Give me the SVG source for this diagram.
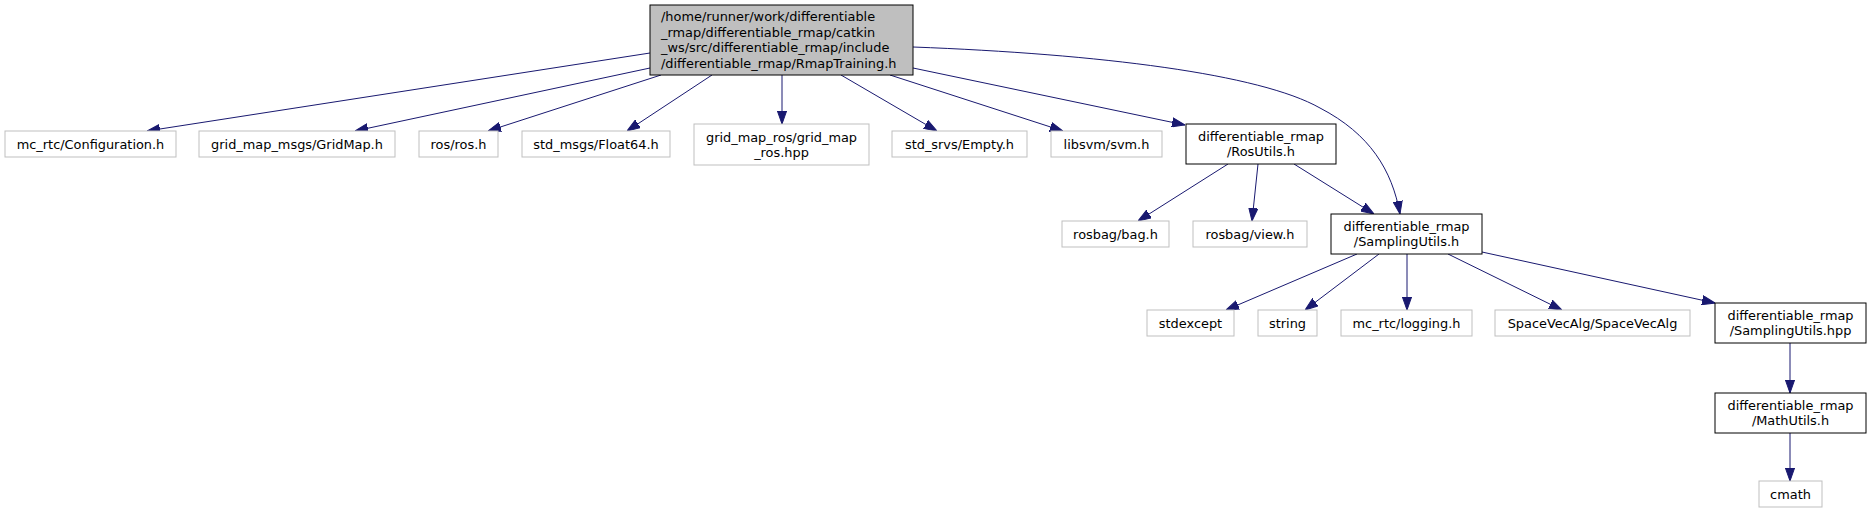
<svg xmlns="http://www.w3.org/2000/svg" width="1871" height="513" viewBox="0 0 1871 513">
<style>
  .bg { fill: #ffffff; }
  .leaf rect { fill: #ffffff; stroke: #bfbfbf; stroke-width: 1; }
  .inner rect { fill: #ffffff; stroke: #000000; stroke-width: 1; }
  .root rect { fill: #bfbfbf; stroke: #000000; stroke-width: 1; }
  text { font-family: "DejaVu Sans", "Noto Sans", sans-serif; font-size: 12.9px; fill: #000000; }
  .c { text-anchor: middle; }
  .edges path { fill: none; stroke: #191970; stroke-width: 1; marker-end: url(#arr); }
</style>
<defs>
  <marker id="arr" viewBox="0 0 13 10" refX="13" refY="5" markerWidth="13" markerHeight="10" markerUnits="userSpaceOnUse" orient="auto">
    <path d="M0,0.4 L13,5 L0,9.6 Z" fill="#191970" stroke="#191970" stroke-width="1"/>
  </marker>
</defs>
<rect class="bg" x="0" y="0" width="1871" height="513"/>

<g id="edges" class="edges">
  <path d="M650,53 L147,131"/>
  <path d="M650,68 L355,131"/>
  <path d="M661,75 L488,131"/>
  <path d="M712,75 L627,131"/>
  <path d="M782,75 L782,124"/>
  <path d="M841,75 L937,131"/>
  <path d="M890,75 L1063,131"/>
  <path d="M913,68 L1185,125"/>
  <path d="M913,47 C1100,54 1260,74 1320,108 C1370,134 1392,170 1400,214"/>
  <path d="M1228,164 L1138,221"/>
  <path d="M1258,164 L1252,221"/>
  <path d="M1294,164 L1374,214"/>
  <path d="M1357,254 L1226,310"/>
  <path d="M1379,254 L1305,310"/>
  <path d="M1407,254 L1407,310"/>
  <path d="M1448,254 L1562,310"/>
  <path d="M1482,252 L1715,303"/>
  <path d="M1790,343 L1790,393"/>
  <path d="M1790,433 L1790,481"/>
</g>

<g id="node_root" class="root">
  <rect x="650" y="5" width="263" height="70"/>
  <text x="661" y="21.1">/home/runner/work/differentiable</text>
  <text x="661" y="36.7">_rmap/differentiable_rmap/catkin</text>
  <text x="661" y="52.3">_ws/src/differentiable_rmap/include</text>
  <text x="661" y="67.9">/differentiable_rmap/RmapTraining.h</text>
</g>

<g id="node_configuration" class="leaf">
  <rect x="5" y="131" width="171" height="26"/>
  <text class="c" x="90.5" y="148.5">mc_rtc/Configuration.h</text>
</g>
<g id="node_gridmap" class="leaf">
  <rect x="199" y="131" width="196" height="26"/>
  <text class="c" x="297" y="148.5">grid_map_msgs/GridMap.h</text>
</g>
<g id="node_ros" class="leaf">
  <rect x="419" y="131" width="79" height="26"/>
  <text class="c" x="458.5" y="148.5">ros/ros.h</text>
</g>
<g id="node_float64" class="leaf">
  <rect x="522" y="131" width="148" height="26"/>
  <text class="c" x="596" y="148.5">std_msgs/Float64.h</text>
</g>
<g id="node_gridmapros" class="leaf">
  <rect x="694" y="124" width="175" height="41"/>
  <text class="c" x="781.5" y="141.5">grid_map_ros/grid_map</text>
  <text class="c" x="781.5" y="156.5">_ros.hpp</text>
</g>
<g id="node_empty" class="leaf">
  <rect x="892" y="131" width="135" height="26"/>
  <text class="c" x="959.5" y="148.5">std_srvs/Empty.h</text>
</g>
<g id="node_svm" class="leaf">
  <rect x="1051" y="131" width="111" height="26"/>
  <text class="c" x="1106.5" y="148.5">libsvm/svm.h</text>
</g>
<g id="node_rosutils" class="inner">
  <rect x="1186" y="124" width="150" height="40"/>
  <text class="c" x="1261" y="140.8">differentiable_rmap</text>
  <text class="c" x="1261" y="155.6">/RosUtils.h</text>
</g>
<g id="node_bag" class="leaf">
  <rect x="1062" y="221" width="107" height="26"/>
  <text class="c" x="1115.5" y="238.5">rosbag/bag.h</text>
</g>
<g id="node_view" class="leaf">
  <rect x="1193" y="221" width="114" height="26"/>
  <text class="c" x="1250" y="238.5">rosbag/view.h</text>
</g>
<g id="node_samplingutils_h" class="inner">
  <rect x="1331" y="214" width="151" height="40"/>
  <text class="c" x="1406.5" y="230.8">differentiable_rmap</text>
  <text class="c" x="1406.5" y="245.6">/SamplingUtils.h</text>
</g>
<g id="node_stdexcept" class="leaf">
  <rect x="1147" y="310" width="87" height="26"/>
  <text class="c" x="1190.5" y="327.5">stdexcept</text>
</g>
<g id="node_string" class="leaf">
  <rect x="1258" y="310" width="59" height="26"/>
  <text class="c" x="1287.5" y="327.5">string</text>
</g>
<g id="node_logging" class="leaf">
  <rect x="1341" y="310" width="131" height="26"/>
  <text class="c" x="1406.5" y="327.5">mc_rtc/logging.h</text>
</g>
<g id="node_spacevecalg" class="leaf">
  <rect x="1495" y="310" width="195" height="26"/>
  <text class="c" x="1592.5" y="327.5">SpaceVecAlg/SpaceVecAlg</text>
</g>
<g id="node_samplingutils_hpp" class="inner">
  <rect x="1715" y="303" width="151" height="40"/>
  <text class="c" x="1790.5" y="319.8">differentiable_rmap</text>
  <text class="c" x="1790.5" y="334.6">/SamplingUtils.hpp</text>
</g>
<g id="node_mathutils" class="inner">
  <rect x="1715" y="393" width="151" height="40"/>
  <text class="c" x="1790.5" y="409.8">differentiable_rmap</text>
  <text class="c" x="1790.5" y="424.6">/MathUtils.h</text>
</g>
<g id="node_cmath" class="leaf">
  <rect x="1759" y="481" width="63" height="26"/>
  <text class="c" x="1790.5" y="498.5">cmath</text>
</g>
</svg>
